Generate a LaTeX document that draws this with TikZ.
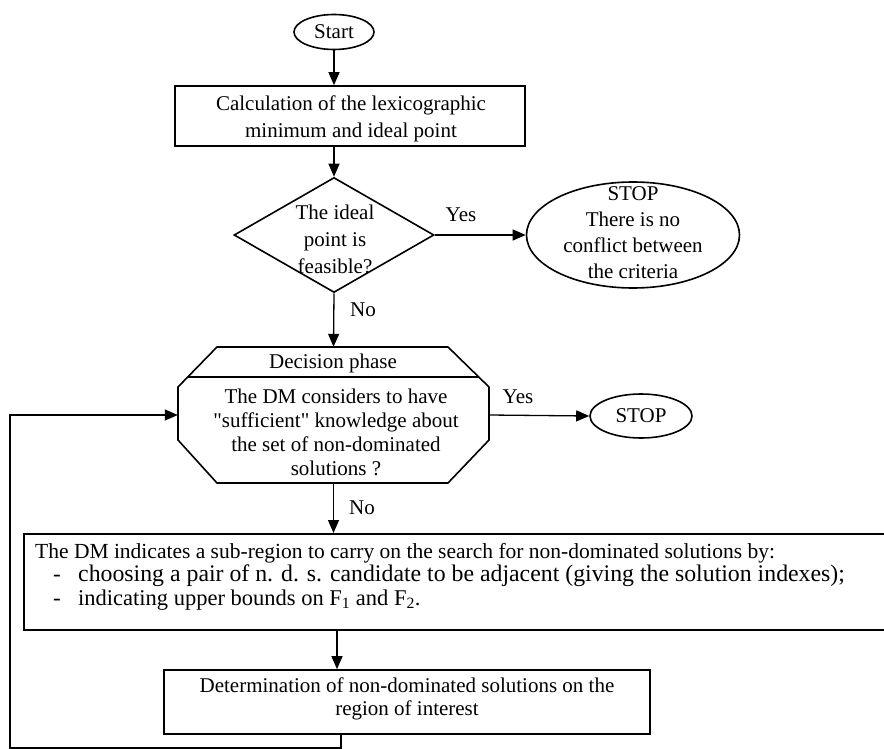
\documentclass[tikz,border=0pt]{standalone}
\usepackage{fontspec}
\setmainfont{Liberation Serif}
\usetikzlibrary{shapes.geometric,arrows.meta}
\begin{document}
\begin{tikzpicture}[x=1pt,y=-1pt,
  box/.style={draw, line width=1.6pt, inner sep=0pt, font=\fontsize{21}{27}\selectfont, align=center},
  conn/.style={line width=1.3pt, -{Triangle[length=13pt,width=11pt]}},
  lbl/.style={font=\fontsize{21}{26}\selectfont, align=center, inner sep=0pt},
  wtxt/.style={anchor=base west, inner sep=0pt},
]
\useasboundingbox (0,0) rectangle (884,749);
\fill[white] (0,0) rectangle (884,749);

% nodes
\node[box, ellipse, minimum width=80pt, minimum height=35pt] (start) at (334,32) {Start};
\node[box, minimum width=350pt, minimum height=60pt] (calc) at (350,116) {};
\node[lbl, font=\fontsize{21}{27}\selectfont] (calctxt) at (351,119)
  {Calculation of the lexicographic\\minimum and ideal point};
\node[box, diamond, minimum width=200pt, minimum height=115pt] (feas) at (334,235) {};
\node[lbl, font=\fontsize{21}{27}\selectfont] (feastxt) at (335,239) {The ideal\\point is\\feasible?};
\node[box, ellipse, minimum width=213pt, minimum height=106pt] (stop1) at (633,235) {};
\node[lbl] (stop1txt) at (633,233) {STOP\\There is no\\conflict between\\the criteria};

% decision phase shape
\node[minimum width=311pt, minimum height=136pt, inner sep=0pt] (dec) at (333.5,415) {};
\draw[line width=1.6pt] (217,347) -- (448,347) -- (489,387) -- (489,440) -- (448,483)
  -- (217,483) -- (178,440) -- (178,387) -- cycle;
\draw[line width=1.6pt] (187.75,377) -- (478.75,377);
\node[lbl] (dechead) at (333,363) {Decision phase};
\node[lbl, font=\fontsize{21}{24}\selectfont] (decbody) at (336,432)
  {The DM considers to have\\\textquotedbl sufficient\textquotedbl{} knowledge about\\the set of non-dominated\\solutions ?};

\node[box, ellipse, minimum width=102pt, minimum height=44pt] (stop2) at (641,416) {STOP};

% wide box
\node[box, minimum width=868pt, minimum height=96pt, anchor=north west] (wide) at (23,533) {};
\node[wtxt, font=\fontsize{21.5}{21.5}\selectfont] (w1) at (35,558)
  {The DM indicates a sub-region to carry on the search for non-dominated solutions by:};
\node[wtxt, font=\fontsize{23}{23}\selectfont] (w2d) at (53,581) {-};
\node[wtxt, font=\fontsize{23.8}{23.8}\selectfont] (w2) at (78,581)
  {choosing a pair of n. d. s. candidate to be adjacent (giving the solution indexes);};
\node[wtxt, font=\fontsize{23}{23}\selectfont] (w3d) at (53,605) {-};
\node[wtxt, font=\fontsize{22.5}{22.5}\selectfont] (w3) at (78,605)
  {indicating upper bounds on F\textsubscript{1} and F\textsubscript{2}.};

% bottom box
\node[box, minimum width=486pt, minimum height=64pt] (bot) at (407,702) {};
\node[lbl, font=\fontsize{21}{23}\selectfont] (bottxt) at (407,699)
  {Determination of non-dominated solutions on the\\region of interest};

% connectors
\draw[conn] (start.south) -- (start.south |- calc.north);
\draw[conn] (calc.south -| start.south) -- (feas.north);
\draw[conn] (feas.east) -- (stop1.west);
\node[lbl] (yes1) at (461,215) {Yes};
\draw[conn] (feas.south) -- (dec.north);
\node[lbl] (no1) at (363,310) {No};
\draw[conn] (dec.east) -- (stop2.west);
\node[lbl] (yes2) at (518,397) {Yes};
\draw[conn] (dec.south) -- (dec.south |- wide.north);
\node[lbl] (no2) at (362,508) {No};
\coordinate (mid) at (337,600);
\draw[conn] (mid |- wide.south) -- (mid |- bot.north);
\coordinate (lp1) at (341,748);
\coordinate (lp2) at (10,748);
\draw[conn] (bot.south -| lp1) -- (lp1) -- (lp2) |- (dec.west);
\end{tikzpicture}
\end{document}
